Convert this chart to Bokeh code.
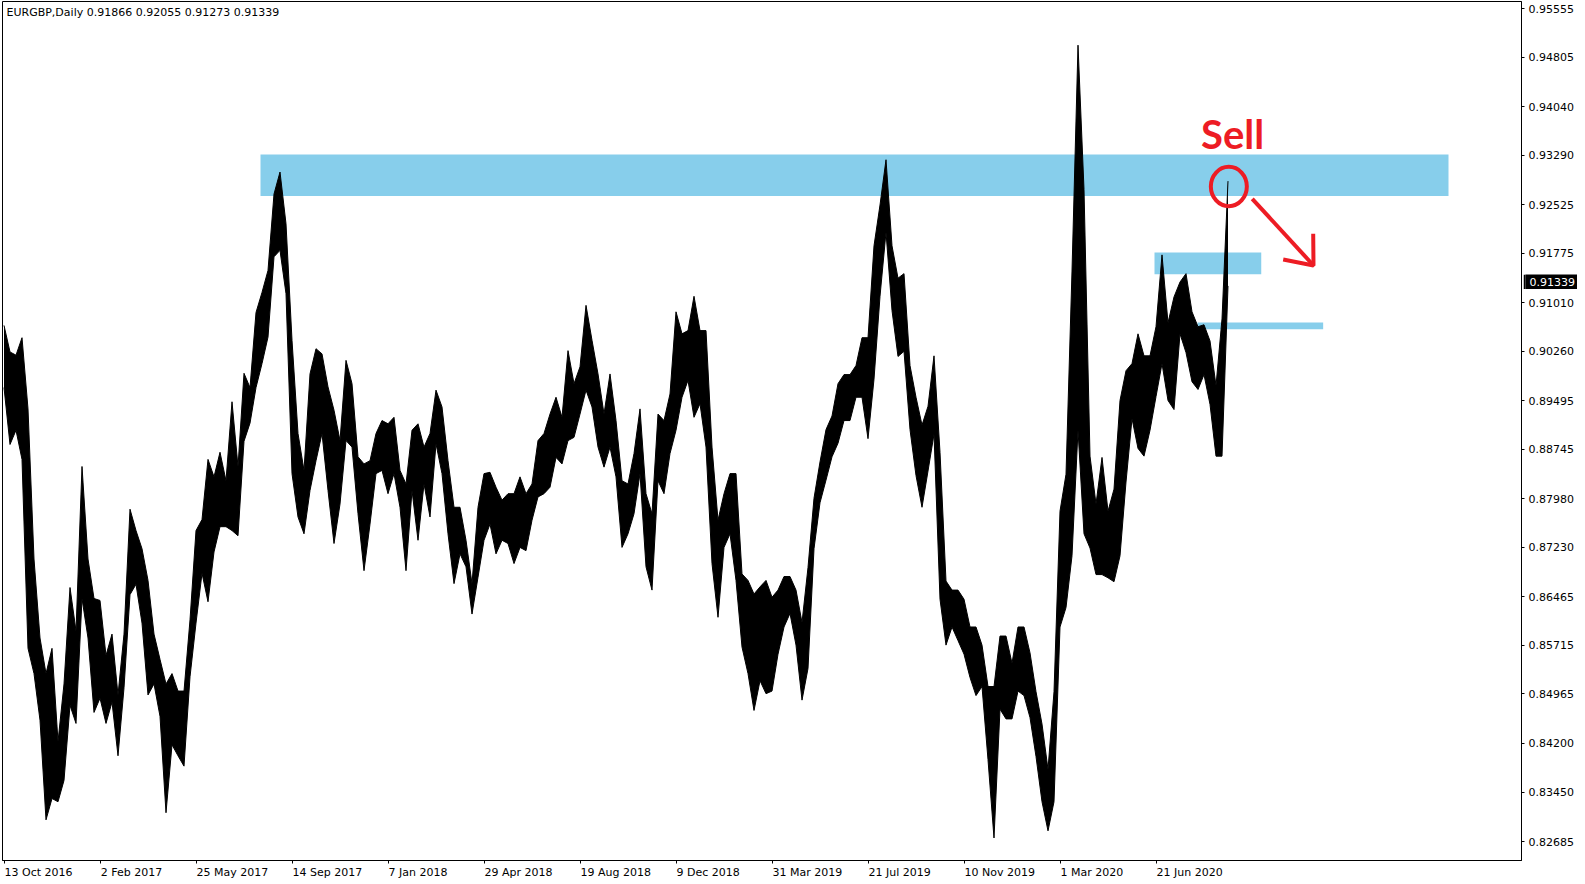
from bokeh.plotting import figure
from bokeh.layouts import column
from bokeh.core.properties import value
from bokeh.models import Range1d, FixedTicker, Label, PrintfTickFormatter, LinearAxis
from bokeh.embed import file_html
from bokeh.resources import INLINE

# ---- data (EURGBP daily, sampled every 5 bars: high / low of each window) ----
bar_step = 5
high = [0.9066, 0.9025, 0.9020, 0.9047, 0.8937, 0.8705, 0.8583, 0.8528, 0.8567, 0.8423,
        0.8512, 0.8661, 0.8594, 0.8848, 0.8705, 0.8644, 0.8641, 0.8556, 0.8589, 0.8495,
        0.8589, 0.8782, 0.8749, 0.8721, 0.8672, 0.8589, 0.8550, 0.8512, 0.8528, 0.8501,
        0.8501, 0.8611, 0.8749, 0.8766, 0.8859, 0.8832, 0.8870, 0.8826, 0.8948, 0.8848,
        0.8992, 0.8970, 0.9086, 0.9117, 0.9151, 0.9269, 0.9303, 0.9223, 0.9043, 0.8899,
        0.8842, 0.8991, 0.9030, 0.9022, 0.8971, 0.8935, 0.8888, 0.9012, 0.8976, 0.8863,
        0.8852, 0.8857, 0.8899, 0.8919, 0.8914, 0.8924, 0.8842, 0.8821, 0.8904, 0.8914,
        0.8878, 0.8899, 0.8966, 0.8940, 0.8857, 0.8785, 0.8785, 0.8734, 0.8667, 0.8785,
        0.8837, 0.8839, 0.8816, 0.8796, 0.8806, 0.8806, 0.8832, 0.8806, 0.8821, 0.8888,
        0.8899, 0.8929, 0.8955, 0.8924, 0.9027, 0.8976, 0.9002, 0.9097, 0.9043, 0.8991,
        0.8929, 0.8991, 0.8919, 0.8826, 0.8821, 0.8868, 0.8937, 0.8806, 0.8775, 0.8929,
        0.8919, 0.8960, 0.9087, 0.9053, 0.9058, 0.9111, 0.9058, 0.9058, 0.8878, 0.8765,
        0.8806, 0.8837, 0.8837, 0.8682, 0.8672, 0.8651, 0.8662, 0.8672, 0.8646, 0.8657,
        0.8678, 0.8678, 0.8657, 0.8607, 0.8692, 0.8799, 0.8855, 0.8905, 0.8926, 0.8976,
        0.8990, 0.8990, 0.9004, 0.9047, 0.9047, 0.9189, 0.9252, 0.9322, 0.9189, 0.9139,
        0.9146, 0.9004, 0.8955, 0.8912, 0.8941, 0.9019, 0.8870, 0.8671, 0.8657, 0.8657,
        0.8643, 0.8600, 0.8600, 0.8572, 0.8508, 0.8508, 0.8586, 0.8586, 0.8544, 0.8600,
        0.8600, 0.8560, 0.8500, 0.8450, 0.8380, 0.8500, 0.8779, 0.8836, 0.9150, 0.9499,
        0.9276, 0.8864, 0.8790, 0.8862, 0.8779, 0.8813, 0.8950, 0.8996, 0.9007, 0.9053,
        0.9019, 0.9019, 0.9064, 0.9175, 0.9070, 0.9110, 0.9133, 0.9146, 0.9087, 0.9064,
        0.9067, 0.9042, 0.8973, 0.9076, 0.9289]
low = [0.8970, 0.8882, 0.8904, 0.8859, 0.8567, 0.8528, 0.8456, 0.8302, 0.8335, 0.8330,
       0.8363, 0.8479, 0.8451, 0.8644, 0.8583, 0.8468, 0.8490, 0.8451, 0.8484, 0.8401,
       0.8506, 0.8650, 0.8666, 0.8606, 0.8495, 0.8512, 0.8462, 0.8313, 0.8418, 0.8401,
       0.8385, 0.8523, 0.8606, 0.8683, 0.8639, 0.8716, 0.8755, 0.8755, 0.8749, 0.8741,
       0.8887, 0.8915, 0.8970, 0.9007, 0.9048, 0.9172, 0.9182, 0.9115, 0.8837, 0.8770,
       0.8744, 0.8811, 0.8857, 0.8899, 0.8811, 0.8729, 0.8790, 0.8888, 0.8878, 0.8775,
       0.8687, 0.8759, 0.8837, 0.8842, 0.8806, 0.8837, 0.8785, 0.8687, 0.8811, 0.8734,
       0.8821, 0.8770, 0.8883, 0.8837, 0.8744, 0.8667, 0.8713, 0.8693, 0.8620, 0.8677,
       0.8734, 0.8759, 0.8713, 0.8734, 0.8729, 0.8698, 0.8723, 0.8718, 0.8765, 0.8801,
       0.8806, 0.8816, 0.8862, 0.8852, 0.8888, 0.8893, 0.8929, 0.8966, 0.8940, 0.8878,
       0.8847, 0.8878, 0.8832, 0.8723, 0.8744, 0.8775, 0.8837, 0.8693, 0.8657, 0.8826,
       0.8806, 0.8868, 0.8904, 0.8955, 0.8981, 0.8924, 0.8945, 0.8878, 0.8698, 0.8615,
       0.8723, 0.8744, 0.8672, 0.8569, 0.8528, 0.8471, 0.8517, 0.8497, 0.8501, 0.8558,
       0.8600, 0.8621, 0.8572, 0.8487, 0.8536, 0.8721, 0.8792, 0.8827, 0.8863, 0.8884,
       0.8919, 0.8919, 0.8955, 0.8955, 0.8891, 0.8983, 0.9111, 0.9210, 0.9089, 0.9018,
       0.9026, 0.8905, 0.8834, 0.8785, 0.8841, 0.8898, 0.8643, 0.8572, 0.8600, 0.8579,
       0.8558, 0.8522, 0.8494, 0.8508, 0.8395, 0.8274, 0.8473, 0.8458, 0.8458, 0.8501,
       0.8494, 0.8460, 0.8400, 0.8330, 0.8285, 0.8330, 0.8600, 0.8630, 0.8710, 0.8904,
       0.8744, 0.8722, 0.8681, 0.8681, 0.8676, 0.8670, 0.8710, 0.8824, 0.8922, 0.8876,
       0.8864, 0.8904, 0.8956, 0.9007, 0.8950, 0.8936, 0.9053, 0.9024, 0.8979, 0.8967,
       0.8990, 0.8944, 0.8864, 0.8864, 0.9127]
bar_index = [i * bar_step for i in range(len(high))]

x_tick_bars = [0, 80, 160, 240, 320, 400, 480, 560, 640, 720, 800, 880, 960]
x_tick_labels = ["13 Oct 2016", "2 Feb 2017", "25 May 2017", "14 Sep 2017", "7 Jan 2018",
                 "29 Apr 2018", "19 Aug 2018", "9 Dec 2018", "31 Mar 2019", "21 Jul 2019",
                 "10 Nov 2019", "1 Mar 2020", "21 Jun 2020"]
y_ticks = [0.95555, 0.94805, 0.94040, 0.93290, 0.92525, 0.91775, 0.91010, 0.90260, 0.89495,
           0.88745, 0.87980, 0.87230, 0.86465, 0.85715, 0.84965, 0.84200, 0.83450, 0.82685]

header = "EURGBP,Daily  0.91866 0.92055 0.91273 0.91339"
last_close = 0.91339

# zones (support / resistance boxes)
zone_left = [213.75, 958.75, 994.6]
zone_right = [1203.75, 1047.7, 1099.3]
zone_bottom = [0.92659, 0.91451, 0.90601]
zone_top = [0.93301, 0.91786, 0.90705]

# red annotation
circle_x, circle_y, circle_w, circle_h = 1020.7, 0.92806, 30.0, 0.0061
arrow_x = [1040.2, 1091.25]
arrow_y = [0.92616, 0.91586]
head_xs = [[1091.0, 1091.25, 1066.0]]
head_ys = [[0.92075, 0.91586, 0.91679]]
sell_x, sell_y = 997.6, 0.93610

RED = "#ED1C24"
BLUE = "#87CEEB"
FONT = "DejaVu Sans"
FONT_PX = 11
PX_PER_BAR = 1.2

# approximate DejaVu Sans advance widths (em) -> used to left-align date labels at their ticks
_W = {" ": 0.318, "O": 0.787, "c": 0.550, "t": 0.392, "F": 0.575, "e": 0.615, "b": 0.635,
      "M": 0.863, "a": 0.613, "y": 0.592, "S": 0.635, "p": 0.635, "J": 0.295, "n": 0.634,
      "A": 0.684, "r": 0.411, "u": 0.634, "g": 0.635, "D": 0.770, "l": 0.278, "N": 0.748,
      "o": 0.612, "v": 0.592}


def text_px(s):
    return sum(0.636 if ch.isdigit() else _W.get(ch, 0.6) for ch in s) * FONT_PX


label_centers = [round(b + (text_px(s) / 2 + 0.5) / PX_PER_BAR, 3)
                 for b, s in zip(x_tick_bars, x_tick_labels)]

p = figure(frame_width=1519, frame_height=859,
           x_range=Range1d(-1.25, 1264.58), y_range=Range1d(0.82392, 0.95665),
           output_backend="svg", toolbar_location=None,
           x_axis_location="below", y_axis_location="right",
           min_border_left=2, min_border_right=62, min_border_top=1, min_border_bottom=23,
           background_fill_color="white", border_fill_color="white")
p.grid.visible = False
p.outline_line_color = "black"
p.outline_line_width = 1

# zones
p.quad(left=zone_left, right=zone_right, bottom=zone_bottom, top=zone_top,
       fill_color=BLUE, line_color=None)

# price
p.varea(x=bar_index, y1=low, y2=high, fill_color="black")
p.line(x=bar_index, y=high, line_color="black", line_width=1)
p.line(x=bar_index, y=low, line_color="black", line_width=1)

# annotations
p.ellipse(x=[circle_x], y=[circle_y], width=circle_w, height=circle_h,
          fill_color=None, line_color=RED, line_width=4)
p.line(x=arrow_x, y=arrow_y, line_color=RED, line_width=4)
p.multi_line(xs=head_xs, ys=head_ys, line_color=RED, line_width=4)
p.add_layout(Label(x=sell_x, y=sell_y, text="Sell", text_color=RED, text_font="Lato",
                   text_font_style="bold", text_font_size="40px", text_baseline="alphabetic"))

p.add_layout(Label(x=2.1, y=0.95495, text=header, text_color="black", text_font=FONT,
                   text_font_size="11px", text_baseline="middle"))

# bottom axis 1: tick marks only
xa = p.xaxis[0]
xa.ticker = FixedTicker(ticks=x_tick_bars)
xa.major_label_overrides = {b: "" for b in x_tick_bars}
xa.major_label_text_font_size = "1px"
xa.major_label_standoff = 0
xa.major_tick_out = 3
xa.major_tick_in = 0
xa.minor_tick_out = 0
xa.minor_tick_in = 0
xa.axis_line_color = "black"

# bottom axis 2: date labels starting at the tick (MT4 style)
xa2 = LinearAxis(ticker=FixedTicker(ticks=label_centers),
                 major_label_overrides={c: s for c, s in zip(label_centers, x_tick_labels)},
                 major_tick_out=0, major_tick_in=0, minor_tick_out=0, minor_tick_in=0,
                 axis_line_color=None, major_tick_line_color=None,
                 major_label_standoff=2, major_label_text_font=FONT,
                 major_label_text_font_size="11px", major_label_text_color="black")
p.add_layout(xa2, "below")

ya = p.yaxis[0]
ya.ticker = FixedTicker(ticks=y_ticks)
ya.formatter = PrintfTickFormatter(format="%.5f")
ya.major_label_text_font = FONT
ya.major_label_text_font_size = "11px"
ya.major_label_text_color = "black"
ya.major_tick_out = 3
ya.major_tick_in = 0
ya.minor_tick_out = 0
ya.minor_tick_in = 0
ya.major_label_standoff = 4
ya.axis_line_color = "black"

# current price tag (black box on the price scale), overlaid with a negative margin
TAG_W, TAG_H, TAG_TOP = 54, 15, 274
tag = figure(title=None, frame_width=TAG_W, frame_height=TAG_H,
             x_range=Range1d(0, TAG_W), y_range=Range1d(0, TAG_H),
             output_backend="svg", toolbar_location=None,
             min_border_left=0, min_border_right=0, min_border_top=0, min_border_bottom=0,
             background_fill_color="black", border_fill_color="black",
             outline_line_color=None,
             margin=(-(883 - TAG_TOP), 0, 883 - TAG_TOP - TAG_H, 1523))
tag.xaxis.visible = False
tag.yaxis.visible = False
tag.grid.visible = False
tag.text(x=[4], y=[TAG_H / 2], text=["%.5f" % last_close], text_color="white",
         text_font=value(FONT), text_font_size="11px",
         text_baseline="middle", text_align="left")

layout = column(p, tag, spacing=0)
open("out.html", "w").write(file_html(layout, INLINE))
